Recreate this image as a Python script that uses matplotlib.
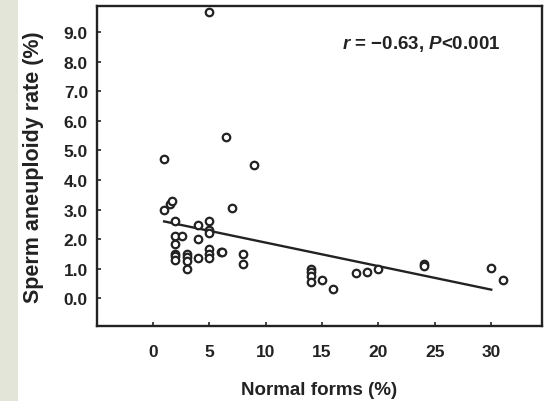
import matplotlib
matplotlib.use("Agg")
import matplotlib.pyplot as plt
from matplotlib.patches import Rectangle

plt.rcParams['font.family'] = ['Liberation Sans', 'DejaVu Sans']
plt.rcParams['mathtext.fontset'] = 'custom'
plt.rcParams['mathtext.it'] = 'Liberation Sans:italic:bold'
plt.rcParams['mathtext.rm'] = 'Liberation Sans:bold'

# Data
normal_forms = [5.0, 1.0, 6.5, 9.0, 7.0, 1.0, 1.5, 1.7, 2.0, 4.0, 5.0, 5.0, 5.0,
                2.0, 2.6, 2.0, 4.0, 2.0, 2.0, 2.0, 3.0, 3.0, 3.0, 3.0, 4.0,
                5.0, 5.0, 5.0, 6.0, 6.1, 8.0, 8.0,
                14.0, 14.0, 14.0, 14.0, 15.0, 16.0, 18.0, 19.0, 20.0, 24.0, 24.0,
                30.0, 31.0]
aneuploidy = [9.7, 4.7, 5.45, 4.5, 3.07, 3.0, 3.2, 3.3, 2.6, 2.47, 2.63, 2.3, 2.2,
              2.1, 2.1, 1.84, 2.0, 1.5, 1.42, 1.3, 1.5, 1.38, 1.27, 0.99, 1.37,
              1.67, 1.5, 1.35, 1.55, 1.58, 1.5, 1.17,
              1.0, 0.88, 0.75, 0.54, 0.63, 0.3, 0.86, 0.9, 1.0, 1.16, 1.1,
              1.02, 0.6]
fit_x = [1.0, 30.0]
fit_y = [2.6, 0.29]
x_ticks = [0, 5, 10, 15, 20, 25, 30]
y_ticks = [0, 1, 2, 3, 4, 5, 6, 7, 8, 9]

ink = '#222222'

fig = plt.figure(figsize=(5.45, 4.02), dpi=100)
fig.patch.set_facecolor('white')
fig.patches.append(Rectangle((0, 0), 18 / 545, 1, transform=fig.transFigure,
                             facecolor='#e3e5d8', edgecolor='none', zorder=0))

ax = fig.add_axes([97 / 545, 75 / 402, 445 / 545, 320 / 402])
ax.set_xlim(-4.95, 34.5)
ax.set_ylim(-0.94, 9.89)

ax.plot(fit_x, fit_y, color=ink, lw=1.7, zorder=2)
ax.plot(normal_forms, aneuploidy, linestyle='none', marker='o', markersize=5.4,
        markerfacecolor='white', markeredgecolor=ink, markeredgewidth=1.6,
        zorder=3, clip_on=False)

ax.set_xticks(x_ticks)
ax.set_xticklabels([str(v) for v in x_ticks], fontweight='bold')
ax.set_yticks(y_ticks)
ax.set_yticklabels([f"{v:.1f}" for v in y_ticks], fontweight='bold')
ax.tick_params(axis='both', direction='in', length=3, width=1.2, colors=ink,
               labelsize=12.5, labelcolor=ink)
ax.tick_params(axis='x', pad=13)
ax.tick_params(axis='y', pad=6.5)
for s in ax.spines.values():
    s.set_linewidth(1.7)
    s.set_color(ink)

ax.set_xlabel('Normal forms (%)', fontsize=13.5, fontweight='bold', color=ink, labelpad=15.5)
ax.set_ylabel('Sperm aneuploidy rate (%)', fontsize=15.5, fontweight='bold', color=ink,
              labelpad=14)

ax.text(0.906, 0.885, r'$r$ = −0.63, $P$<0.001', transform=ax.transAxes,
        ha='right', va='center', fontsize=13.5, fontweight='bold', color=ink)

fig.savefig('out.png', dpi=100, facecolor='white')
